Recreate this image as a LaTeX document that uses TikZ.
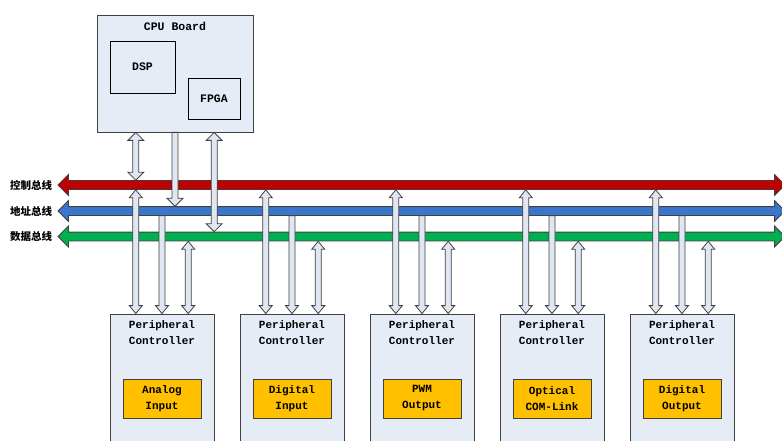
\documentclass[tikz,border=0pt]{standalone}
\usepackage{fontspec}
\setmainfont{Liberation Mono}
\newfontfamily\cjk{Noto Sans CJK SC}
\usetikzlibrary{calc,positioning,shapes.arrows}

\definecolor{boardfill}{RGB}{230,236,246}
\definecolor{ioyellow}{RGB}{255,192,0}
\definecolor{ctrlred}{RGB}{192,0,0}
\definecolor{addrblue}{RGB}{58,118,204}
\definecolor{datagreen}{RGB}{0,176,80}
\definecolor{linkfill}{RGB}{224,231,242}
\definecolor{edgegray}{RGB}{64,64,64}

\tikzset{
  linkarrow/.style={fill=linkfill, draw=edgegray, line width=0.8pt, line join=miter}
}

% hollow block arrows, #2 = upper end, #3 = lower end, #1 = half head width
\newcommand\duallink[3][6.5pt]{%
  \path[linkarrow] let \p1=#2, \p2=#3 in
    (\x1,\y1) -- ({\x1+#1},{\y1-8pt}) -- ({\x1+3pt},{\y1-8pt})
    -- ({\x1+3pt},{\y2+8pt}) -- ({\x1+#1},{\y2+8pt}) -- (\x1,\y2)
    -- ({\x1-#1},{\y2+8pt}) -- ({\x1-3pt},{\y2+8pt})
    -- ({\x1-3pt},{\y1-8pt}) -- ({\x1-#1},{\y1-8pt}) -- cycle;}
\newcommand\downlink[3][6.5pt]{%
  \path[linkarrow] let \p1=#2, \p2=#3 in
    ({\x1-3pt},\y1) -- ({\x1+3pt},\y1)
    -- ({\x1+3pt},{\y2+8pt}) -- ({\x1+#1},{\y2+8pt}) -- (\x1,\y2)
    -- ({\x1-#1},{\y2+8pt}) -- ({\x1-3pt},{\y2+8pt}) -- cycle;}
% three bus taps of one peripheral board
\newcommand\periphlinks[1]{%
  \coordinate (#1a) at ($(#1.north west)!0.25!(#1.north east)$);
  \coordinate (#1b) at ($(#1.north west)!0.5!(#1.north east)$);
  \coordinate (#1c) at ($(#1.north west)!0.75!(#1.north east)$);
  \duallink{(#1a |- ctrlbus.south)}{(#1a)}
  \downlink{(#1b |- addrbus.south)}{(#1b)}
  \duallink{(#1c |- databus.south)}{(#1c)}}

\begin{document}
\begin{tikzpicture}[
    x=1pt, y=-1pt,
    node distance=25.2pt,
    board/.style={draw=edgegray, fill=boardfill, line width=0.8pt, inner sep=0pt},
    chip/.style={draw=black, fill=boardfill, line width=0.8pt, inner sep=0pt,
                 font=\fontsize{11.5}{13}\selectfont\bfseries},
    ptitle/.style={align=center, inner sep=0pt, font=\fontsize{11}{16}\selectfont\bfseries},
    iobox/.style={draw=edgegray, fill=ioyellow, line width=0.8pt, align=center, inner sep=0pt,
                  minimum width=78pt, minimum height=39pt,
                  font=\fontsize{11}{16}\selectfont\bfseries},
    bus/.style={double arrow, draw=edgegray, line width=0.8pt, inner xsep=0pt, inner ysep=4pt,
                double arrow head extend=6pt, minimum height=727pt},
    buslabel/.style={inner sep=0pt, font=\cjk\bfseries\fontsize{10.5}{12}\selectfont}
]
\useasboundingbox (0,0) rectangle (782,441);

% CPU board
\node[board, minimum width=156pt, minimum height=117pt] (cpu) at (175,73.5) {};
\node[ptitle, font=\fontsize{11.5}{13}\selectfont\bfseries, below=7pt of cpu.north] (cputitle) {CPU Board};
\node[chip, minimum width=65pt, minimum height=52pt] (dsp) at (142.5,67) {DSP};
\node[chip, minimum width=52pt, minimum height=41pt] (fpga) at (214,98.5) {FPGA};

% buses
\node[bus, fill=ctrlred] (ctrlbus) at (421.5,185) {};
\node[bus, fill=addrblue] (addrbus) at (421.5,211) {};
\node[bus, fill=datagreen] (databus) at (421.5,236.5) {};
\node[buslabel, left=5pt of ctrlbus.west] (ctrllabel) {控制总线};
\node[buslabel, left=5pt of addrbus.west] (addrlabel) {地址总线};
\node[buslabel, left=5pt of databus.west] (datalabel) {数据总线};

% peripheral boards
\node[board, minimum width=104pt, minimum height=132pt] (pc1) at (162,380) {};
\node[board, minimum width=104pt, minimum height=132pt, right=of pc1] (pc2) {};
\node[board, minimum width=104pt, minimum height=132pt, right=of pc2] (pc3) {};
\node[board, minimum width=104pt, minimum height=132pt, right=of pc3] (pc4) {};
\node[board, minimum width=104pt, minimum height=132pt, right=of pc4] (pc5) {};

\node[ptitle, below=7pt of pc1.north] (pt1) {Peripheral\\Controller};
\node[ptitle, below=7pt of pc2.north] (pt2) {Peripheral\\Controller};
\node[ptitle, below=7pt of pc3.north] (pt3) {Peripheral\\Controller};
\node[ptitle, below=7pt of pc4.north] (pt4) {Peripheral\\Controller};
\node[ptitle, below=7pt of pc5.north] (pt5) {Peripheral\\Controller};

\node[iobox] (io1) at ($(pc1)+(0,18.5)$) {Analog\\Input};
\node[iobox] (io2) at ($(pc2)+(0,18.5)$) {Digital\\Input};
\node[iobox] (io3) at ($(pc3)+(0,18.5)$) {PWM\\Output};
\node[iobox] (io4) at ($(pc4)+(0,18.5)$) {Optical\\COM-Link};
\node[iobox] (io5) at ($(pc5)+(0,18.5)$) {Digital\\Output};

% CPU to buses
\coordinate (cpua) at ($(cpu.south west)!0.25!(cpu.south east)$);
\coordinate (cpub) at ($(cpu.south west)!0.5!(cpu.south east)$);
\coordinate (cpuc) at ($(cpu.south west)!0.75!(cpu.south east)$);
\duallink[8pt]{(cpua)}{(cpua |- ctrlbus.north)}
\downlink[8pt]{(cpub)}{(cpub |- addrbus.north)}
\duallink[8pt]{(cpuc)}{(cpuc |- databus.north)}

% buses to peripherals
\periphlinks{pc1}
\periphlinks{pc2}
\periphlinks{pc3}
\periphlinks{pc4}
\periphlinks{pc5}
\end{tikzpicture}
\end{document}
